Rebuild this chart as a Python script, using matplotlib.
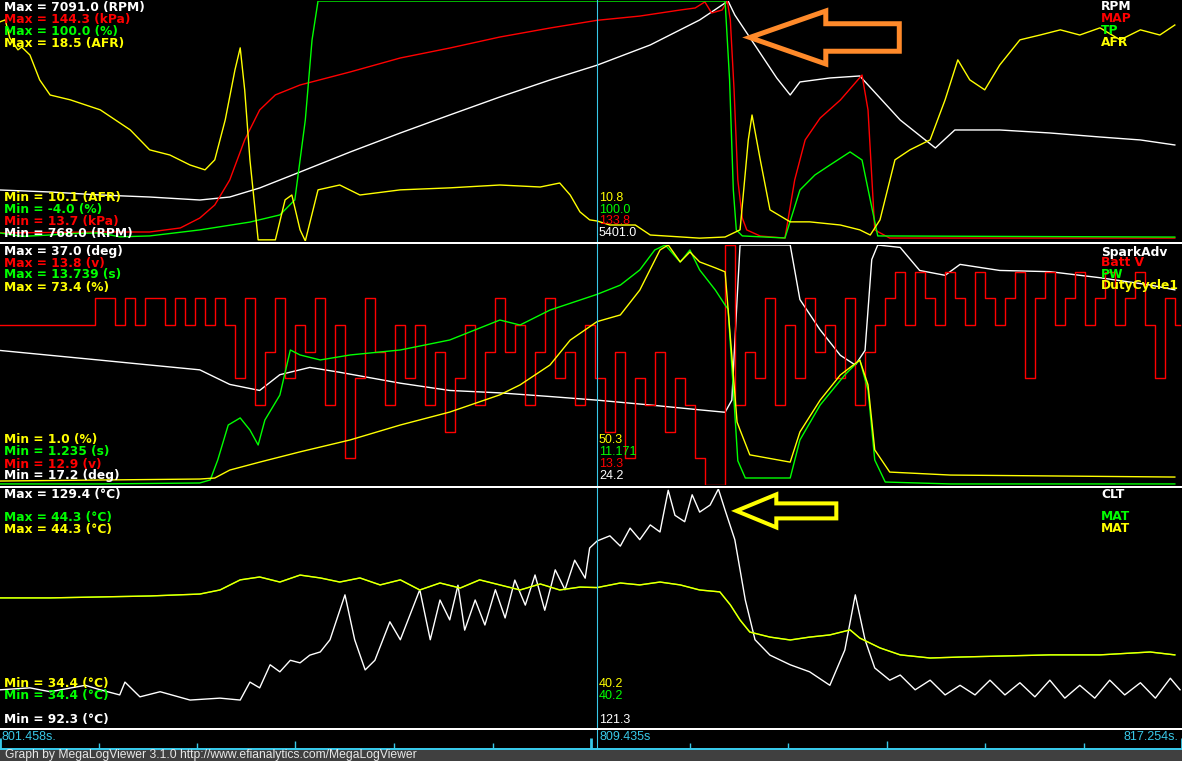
import matplotlib
matplotlib.use("Agg")
import matplotlib.pyplot as plt
import matplotlib.transforms as mtransforms
from matplotlib.lines import Line2D
from matplotlib.patches import Polygon, Rectangle
import numpy as np

plt.rcParams['font.family'] = ['DejaVu Sans']

W, H = 1182, 761

# log view window (s)
t_start = 801.458
t_end = 817.254
t_cursor = 809.435

# ---- panel 1 : (seconds after t_start, value) ----
rpm_lim = (768.0, 7091.0)
rpm = [(0.00, 2112), (0.67, 2059), (1.34, 1980), (2.00, 1927), (2.67, 1848), (3.07, 1927),
       (3.47, 2165), (4.01, 2586), (4.68, 3113), (5.35, 3614), (6.01, 4088), (6.68, 4562),
       (7.35, 5010), (7.98, 5401), (8.69, 5933), (9.35, 6591), (9.73, 7091), (9.82, 6723),
       (9.98, 6249), (10.38, 5063), (10.56, 4615), (10.69, 4958), (11.09, 5063), (11.49, 5116),
       (12.03, 3956), (12.50, 3219), (12.76, 3693), (13.36, 3693), (14.03, 3614), (14.70, 3508),
       (15.24, 3430), (15.70, 3298)]

map_lim = (13.7, 144.3)
map_kpa = [(0.00, 18.1), (1.34, 18.6), (2.00, 18.6), (2.41, 20.8), (2.67, 26.2), (2.87, 33.3),
           (3.07, 46.9), (3.27, 68.7), (3.47, 85.0), (3.68, 93.2), (4.01, 98.6), (4.68, 105.7),
           (5.35, 113.3), (6.01, 118.7), (6.68, 124.7), (7.35, 129.6), (7.98, 133.8), (8.55, 136.1),
           (9.09, 139.4), (9.29, 140.5), (9.42, 143.8), (9.51, 137.8), (9.65, 139.4), (9.72, 144.3),
           (9.76, 133.9), (9.81, 95.9), (9.86, 46.9), (9.92, 26.2), (9.98, 19.7), (10.16, 16.4),
           (10.49, 15.3), (10.62, 46.9), (10.76, 68.7), (10.96, 80.6), (11.23, 90.4), (11.52, 104.0),
           (11.60, 85.0), (11.69, 19.7), (11.89, 15.3), (15.70, 15.3)]

tp_lim = (-4.0, 100.0)
tp = [(0.00, -0.5), (0.30, -2.0), (0.67, -1.4), (0.90, -0.8), (1.34, -0.5), (1.60, -2.2),
      (2.00, -1.8), (2.67, 0.8), (3.34, 4.2), (3.74, 7.3), (3.94, 13.8), (4.08, 48.4),
      (4.17, 83.1), (4.25, 100.0), (9.69, 100.0), (9.75, 65.8), (9.80, 18.1), (9.84, 0.8),
      (9.92, -1.8), (10.49, -2.7), (10.69, 18.1), (10.89, 24.6), (11.09, 28.9), (11.36, 34.6),
      (11.52, 31.1), (11.63, 13.8), (11.73, -1.8), (15.70, -2.3)]

afr_lim = (10.1, 18.5)
afr = [(0.00, 17.77), (0.07, 17.84), (0.13, 17.21), (0.24, 16.79), (0.29, 16.89), (0.40, 16.61),
       (0.53, 15.74), (0.67, 15.21), (0.94, 15.04), (1.34, 14.69), (1.74, 13.99), (2.00, 13.29),
       (2.27, 13.11), (2.54, 12.76), (2.74, 12.59), (2.87, 12.94), (3.01, 14.34), (3.14, 16.09),
       (3.21, 16.86), (3.27, 15.39), (3.34, 12.94), (3.45, 10.14), (3.68, 10.14), (3.81, 11.54),
       (3.90, 11.71), (4.01, 10.49), (4.08, 10.10), (4.25, 11.89), (4.54, 12.06), (4.81, 11.71),
       (5.35, 11.89), (6.01, 11.96), (6.68, 12.06), (7.22, 11.99), (7.48, 12.13), (7.62, 11.71),
       (7.75, 11.12), (7.88, 10.84), (7.98, 10.80), (8.15, 10.66), (8.49, 10.66), (8.69, 10.31),
       (9.35, 10.20), (9.69, 10.24), (9.89, 10.49), (10.00, 13.64), (10.05, 14.51), (10.16, 12.94),
       (10.29, 11.19), (10.56, 10.77), (10.82, 10.77), (11.23, 10.66), (11.49, 10.49), (11.63, 10.31),
       (11.76, 10.84), (11.96, 12.94), (12.16, 13.29), (12.43, 13.64), (12.63, 15.04), (12.80, 16.44),
       (12.96, 15.74), (13.16, 15.39), (13.36, 16.26), (13.63, 17.14), (13.90, 17.31), (14.17, 17.49),
       (14.43, 17.31), (14.70, 17.56), (14.97, 17.14), (15.24, 17.49), (15.50, 17.31), (15.70, 17.66)]

# ---- panel 2 ----
spark_lim = (17.2, 37.0)
spark = [(0.00, 28.3), (0.67, 27.9), (1.34, 27.5), (2.00, 27.1), (2.67, 26.7), (3.07, 25.5),
         (3.47, 25.0), (3.74, 26.3), (4.14, 26.9), (4.54, 26.5), (5.35, 25.6), (6.01, 25.0),
         (6.68, 24.8), (7.35, 24.5), (7.98, 24.2), (8.69, 23.8), (9.35, 23.4), (9.69, 23.2),
         (9.78, 24.2), (9.85, 32.5), (9.89, 37.0), (10.56, 37.0), (10.69, 32.5), (10.96, 30.0),
         (11.23, 27.9), (11.43, 27.1), (11.56, 28.3), (11.65, 35.8), (11.73, 37.0), (12.03, 36.8),
         (12.29, 34.9), (12.63, 34.5), (12.83, 35.4), (13.36, 34.9), (14.03, 34.8), (14.70, 34.3),
         (15.37, 33.7), (15.70, 33.3)]

batt_lim = (12.9, 13.8)
batt_dt = 0.1336  # log sample interval
batt_v = [13.5, 13.5, 13.5, 13.5, 13.5, 13.5, 13.5, 13.5, 13.5, 13.5,
          13.6, 13.6, 13.5, 13.6, 13.5, 13.6, 13.6, 13.5, 13.6, 13.5, 13.6, 13.5,
          13.6, 13.5, 13.3, 13.6, 13.2, 13.4, 13.6, 13.3, 13.5,
          13.4, 13.6, 13.2, 13.5, 13.0, 13.3, 13.6, 13.4, 13.2, 13.5,
          13.3, 13.5, 13.2, 13.4, 13.1, 13.3, 13.5, 13.2, 13.4, 13.6,
          13.4, 13.5, 13.2, 13.4, 13.6, 13.3, 13.4, 13.2, 13.5, 13.3,
          13.1, 13.4, 13.0, 13.3, 13.2, 13.4, 13.1, 13.3, 13.2, 13.0,
          12.9, 12.9, 13.8, 13.2, 13.4, 13.3, 13.6, 13.2, 13.5, 13.3,
          13.6, 13.4, 13.5, 13.3, 13.6, 13.2, 13.4, 13.5, 13.6, 13.7,
          13.5, 13.7, 13.6, 13.5, 13.7, 13.6, 13.5, 13.7, 13.6, 13.5,
          13.6, 13.7, 13.3, 13.6, 13.7, 13.5, 13.6, 13.7, 13.5, 13.6,
          13.7, 13.5, 13.6, 13.7, 13.5, 13.3, 13.6, 13.5]

pw_lim = (1.235, 13.739)
pw = [(0.00, 1.29), (1.34, 1.29), (2.67, 1.34), (2.81, 1.50), (2.91, 2.54), (3.05, 4.36),
      (3.21, 4.73), (3.34, 4.10), (3.45, 3.32), (3.54, 4.62), (3.74, 5.92), (3.88, 8.27),
      (4.01, 8.01), (4.28, 7.75), (4.68, 8.01), (5.35, 8.27), (6.01, 8.79), (6.68, 9.83),
      (6.95, 9.57), (7.35, 10.35), (7.75, 10.87), (7.98, 11.17), (8.29, 11.65), (8.55, 12.44),
      (8.75, 13.48), (8.89, 13.74), (9.09, 12.85), (9.22, 13.48), (9.35, 12.44), (9.56, 11.39),
      (9.69, 10.61), (9.73, 10.40), (9.80, 6.20), (9.86, 2.50), (9.96, 1.60), (10.56, 1.60),
      (10.69, 3.58), (10.96, 5.40), (11.29, 6.97), (11.49, 7.75), (11.60, 6.18), (11.69, 2.54),
      (11.83, 1.39), (12.70, 1.29), (15.70, 1.29)]

duty_lim = (1.0, 73.4)
duty = [(0.00, 2.2), (2.67, 2.8), (2.87, 3.1), (3.07, 5.5), (3.47, 7.9), (4.01, 11.0),
        (4.68, 14.6), (5.35, 19.1), (6.01, 23.0), (6.68, 28.2), (6.95, 31.2), (7.35, 37.2),
        (7.62, 44.7), (7.98, 50.3), (8.29, 52.3), (8.55, 59.8), (8.82, 71.9), (8.93, 73.4),
        (9.09, 68.3), (9.22, 71.3), (9.35, 68.3), (9.56, 66.5), (9.69, 65.3), (9.78, 40.0),
        (9.85, 20.0), (9.89, 17.6), (10.02, 10.1), (10.56, 7.9), (10.69, 17.0), (10.96, 26.6),
        (11.23, 34.2), (11.49, 38.7), (11.60, 31.2), (11.69, 11.6), (11.89, 4.9), (12.70, 4.0),
        (15.70, 3.4)]

# ---- panel 3 ----
clt_lim = (92.3, 129.4)
clt = [(0.00, 98.1), (0.40, 98.4), (0.67, 97.8), (1.14, 98.8), (1.34, 98.1), (1.60, 97.3),
       (1.67, 99.3), (1.87, 97.0), (2.14, 97.8), (2.54, 96.5), (2.94, 96.8), (3.21, 96.5),
       (3.34, 99.3), (3.47, 98.4), (3.61, 102.0), (3.74, 100.9), (3.88, 102.7), (4.01, 102.3),
       (4.14, 103.5), (4.28, 104.0), (4.41, 105.9), (4.61, 112.9), (4.74, 105.9), (4.88, 101.2),
       (5.01, 102.7), (5.21, 108.7), (5.35, 105.9), (5.48, 109.8), (5.61, 113.7), (5.75, 105.9),
       (5.88, 112.1), (6.01, 109.0), (6.12, 114.4), (6.21, 107.4), (6.35, 112.1), (6.48, 108.2),
       (6.62, 113.7), (6.75, 109.3), (6.88, 115.2), (7.02, 111.3), (7.15, 116.0), (7.28, 110.5),
       (7.42, 116.8), (7.55, 113.7), (7.68, 118.3), (7.82, 115.5), (7.88, 120.2), (7.98, 121.3),
       (8.15, 122.1), (8.29, 120.5), (8.42, 123.3), (8.55, 121.5), (8.69, 123.8), (8.82, 122.7),
       (8.93, 129.2), (9.02, 125.3), (9.15, 124.3), (9.25, 128.5), (9.35, 125.8), (9.49, 126.9),
       (9.60, 129.4), (9.69, 126.1), (9.82, 121.5), (9.96, 112.1), (10.09, 105.9), (10.29, 103.5),
       (10.56, 102.0), (10.82, 100.9), (11.09, 98.8), (11.29, 104.3), (11.43, 112.9), (11.56, 105.9),
       (11.69, 101.5), (11.89, 99.6), (12.03, 100.4), (12.23, 98.1), (12.43, 99.6), (12.63, 97.3),
       (12.83, 98.8), (13.03, 97.3), (13.23, 99.6), (13.43, 97.3), (13.63, 99.2), (13.83, 97.0),
       (14.03, 99.6), (14.23, 96.8), (14.43, 98.8), (14.63, 96.8), (14.83, 99.6), (15.03, 97.3),
       (15.24, 99.2), (15.44, 96.8), (15.64, 99.9), (15.77, 98.1)]

mat_lim = (34.4, 44.3)
mat = [(0.00, 39.77), (0.67, 39.77), (1.34, 39.81), (2.00, 39.85), (2.67, 39.93), (2.94, 40.10),
       (3.21, 40.52), (3.47, 40.64), (3.74, 40.43), (4.01, 40.72), (4.28, 40.60), (4.54, 40.43),
       (4.81, 40.60), (5.08, 40.31), (5.35, 40.52), (5.61, 40.10), (5.88, 40.39), (6.15, 40.18),
       (6.41, 40.52), (6.68, 40.31), (6.95, 40.10), (7.22, 40.35), (7.48, 40.10), (7.75, 40.22),
       (7.98, 40.20), (8.29, 40.39), (8.55, 40.31), (8.82, 40.43), (9.09, 40.31), (9.35, 40.10),
       (9.62, 40.02), (9.76, 39.48), (9.89, 38.85), (10.02, 38.35), (10.29, 38.14), (10.56, 38.02),
       (10.82, 38.14), (11.09, 38.23), (11.36, 38.44), (11.49, 38.10), (11.76, 37.69), (12.03, 37.40),
       (12.43, 37.27), (12.83, 37.31), (13.36, 37.35), (14.03, 37.40), (14.70, 37.40), (15.37, 37.52),
       (15.70, 37.40)]

# label texts
p1_max = ['Max = 7091.0 (RPM)', 'Max = 144.3 (kPa)', 'Max = 100.0 (%)', 'Max = 18.5 (AFR)']
p1_min = ['Min = 10.1 (AFR)', 'Min = -4.0 (%)', 'Min = 13.7 (kPa)', 'Min = 768.0 (RPM)']
p1_names = ['RPM', 'MAP', 'TP', 'AFR']
p1_cursor = ['10.8', '100.0', '133.8', '5401.0']
p2_max = ['Max = 37.0 (deg)', 'Max = 13.8 (v)', 'Max = 13.739 (s)', 'Max = 73.4 (%)']
p2_min = ['Min = 1.0 (%)', 'Min = 1.235 (s)', 'Min = 12.9 (v)', 'Min = 17.2 (deg)']
p2_names = ['SparkAdv', 'Batt V', 'PW', 'DutyCycle1']
p2_cursor = ['50.3', '11.171', '13.3', '24.2']
p3_max = ['Max = 129.4 (°C)', 'Max = 44.3 (°C)', 'Max = 44.3 (°C)']
p3_min = ['Min = 34.4 (°C)', 'Min = 34.4 (°C)', 'Min = 92.3 (°C)']
p3_names = ['CLT', 'MAT', 'MAT']
p3_cursor = ['40.2', '40.2', '121.3']

WHITE, RED, GREEN, YELLOW = '#ffffff', '#ff0000', '#00ff00', '#ffff00'
CYAN = '#38c8e8'
ORANGE = '#ff8a2a'

fig = plt.figure(figsize=(W / 100, H / 100), dpi=100, facecolor='black')


def fy(y):
    return 1 - y / H


def panel(top, bottom):
    ax = fig.add_axes([0, fy(bottom), 1, (bottom - top) / H])
    ax.set_xlim(t_start, t_end)
    ax.set_ylim(0, 1)
    ax.axis('off')
    return ax


def trace(ax, pts, lim, color, steps=False):
    tw = ax.twinx()
    tw.axis('off')
    tw.set_ylim(*lim)
    t = [t_start + p[0] for p in pts]
    v = [p[1] for p in pts]
    tw.plot(t, v, color=color, lw=1.0, drawstyle='steps-mid' if steps else 'default')


def txt(x, y, s, color, bold=True, ha='left'):
    if bold:
        fig.text(x / W, fy(y), s, color=color, ha=ha, va='center', fontsize=8.8,
                 fontweight='bold', family='DejaVu Sans', zorder=5)
    else:
        fig.text(x / W, fy(y), s, color=color, ha=ha, va='center', fontsize=9,
                 family='Liberation Sans', zorder=5)


def outline_arrow(ax, t, yfrac, length, head_len, head_half, shaft_half, color, lw):
    tr = mtransforms.blended_transform_factory(ax.transData, ax.transAxes)
    x0, y0 = tr.transform((t_start + t, yfrac))
    pts = [(x0, y0), (x0 + head_len, y0 + head_half), (x0 + head_len, y0 + shaft_half),
           (x0 + length, y0 + shaft_half), (x0 + length, y0 - shaft_half),
           (x0 + head_len, y0 - shaft_half), (x0 + head_len, y0 - head_half)]
    fig.add_artist(Polygon(pts, closed=True, fill=False, edgecolor=color, lw=lw,
                           joinstyle='miter', transform=mtransforms.IdentityTransform(), zorder=6))


# panels
ax1 = panel(1, 241)
trace(ax1, rpm, rpm_lim, WHITE)
trace(ax1, map_kpa, map_lim, RED)
trace(ax1, tp, tp_lim, GREEN)
trace(ax1, afr, afr_lim, YELLOW)

ax2 = panel(245, 485)
batt = [(i * batt_dt, v) for i, v in enumerate(batt_v)]
trace(ax2, spark, spark_lim, WHITE)
trace(ax2, batt, batt_lim, RED, steps=True)
trace(ax2, pw, pw_lim, GREEN)
trace(ax2, duty, duty_lim, YELLOW)

ax3 = panel(489, 727)
trace(ax3, clt, clt_lim, WHITE)
trace(ax3, mat, mat_lim, GREEN)
trace(ax3, mat, mat_lim, YELLOW)

# time strip
ax_t = fig.add_axes([0, fy(748), 1, 18 / H])
ax_t.set_xlim(t_start, t_end)
ax_t.set_ylim(0, 18)
ax_t.axis('off')
for k, tt in enumerate(np.linspace(t_start, t_end, 13)):
    if k % 6 == 0:
        h, w = 10, 2.0
    elif k % 3 == 0:
        h, w = 7, 1.0
    else:
        h, w = 5, 1.0
    ax_t.plot([tt, tt], [0, h], color=CYAN, lw=w, clip_on=False, solid_capstyle='butt')

# cursor line
cur_tr = mtransforms.blended_transform_factory(ax1.transData, fig.transFigure)
fig.add_artist(Line2D([t_cursor, t_cursor], [fy(748), 1], color=CYAN, lw=0.8,
                      transform=cur_tr, zorder=1))

# separators
for y in [242.5, 486.5, 728.5]:
    fig.add_artist(Line2D([0, 1], [fy(y), fy(y)], color=WHITE, lw=1.44,
                          transform=fig.transFigure, zorder=4))
fig.add_artist(Line2D([0, 1], [fy(748.5), fy(748.5)], color=CYAN, lw=1.44,
                      transform=fig.transFigure, zorder=4))

# footer
fig.add_artist(Rectangle((0, 0), 1, fy(749.5), transform=fig.transFigure,
                         facecolor='#404040', edgecolor='none', zorder=3))
fig.text(5 / W, fy(755), 'Graph by MegaLogViewer 3.1.0 http://www.efianalytics.com/MegaLogViewer',
         color='#e8e8e8', fontsize=8.7, family='Liberation Sans', va='center', zorder=5)

# labels
c1 = [WHITE, RED, GREEN, YELLOW]
for i in range(4):
    txt(4, 7 + 12 * i, p1_max[i], c1[i])
    txt(1101, 7 + 12 * i, p1_names[i], c1[i])
c1r = [YELLOW, GREEN, RED, WHITE]
for i, y in enumerate([198, 210, 221, 233]):
    txt(4, y, p1_min[i], c1r[i])
    txt(599, y, p1_cursor[i], c1r[i], bold=False)

for i, y in enumerate([251, 263, 275, 287]):
    txt(4, y, p2_max[i], c1[i])
for i, y in enumerate([252, 263, 274, 286]):
    txt(1101, y, p2_names[i], c1[i])
for i, y in enumerate([440, 452, 464, 476]):
    txt(4, y, p2_min[i], c1r[i])
    txt(599, y, p2_cursor[i], c1r[i], bold=False)

c3 = [WHITE, GREEN, YELLOW]
for i, y in enumerate([494, 517, 529]):
    txt(4, y, p3_max[i], c3[i])
    txt(1101, y, p3_names[i], c3[i])
c3r = [YELLOW, GREEN, WHITE]
for i, y in enumerate([684, 696, 720]):
    txt(4, y, p3_min[i], c3r[i])
    txt(599, y, p3_cursor[i], c3r[i], bold=False)

# time labels
txt(2, 737, f'{t_start:.3f}s.', CYAN, bold=False)
txt(599, 737, f'{t_cursor:.3f}s', CYAN, bold=False)
txt(1178, 737, f'{t_end:.3f}s.', CYAN, bold=False, ha='right')

# annotation arrows
outline_arrow(ax1, 10.02, 0.848, 149.5, 76, 26.5, 13.75, ORANGE, 3.6)
outline_arrow(ax3, 9.84, 0.908, 100, 40, 16.5, 7.5, YELLOW, 2.9)

fig.savefig('out.png', dpi=100, facecolor='black')
